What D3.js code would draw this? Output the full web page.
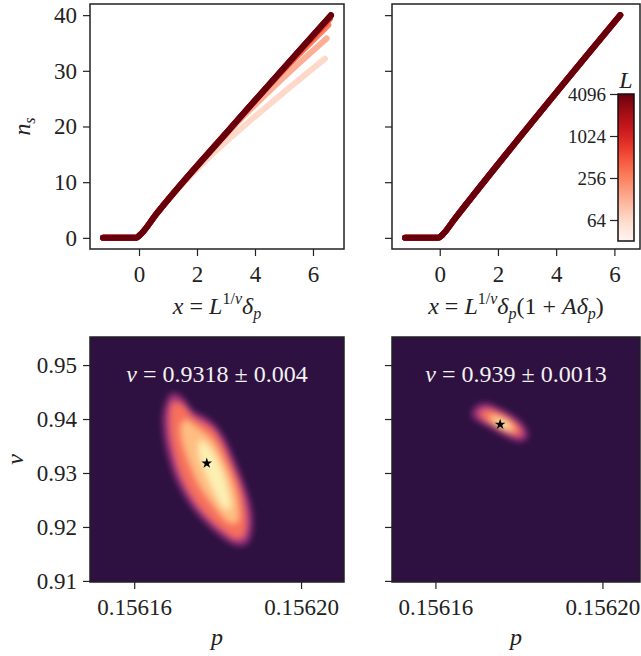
<!DOCTYPE html>
<html>
<head>
<meta charset="utf-8">
<script src="https://cdn.jsdelivr.net/npm/d3@7"></script>
<style>
  body { margin: 0; background: #fff; }
  svg text { font-family: "Liberation Serif", "DejaVu Serif", serif; fill: #222; }
</style>
</head>
<body>
<div id="chart"></div>
<script>
//************************ data ************************

// system sizes shown in the top panels (colour = L)
var L_sizes = [64, 128, 256, 512, 1024, 2048, 4096];

// raw collapse, x = L^{1/nu} delta_p  -> n_s   (one list of [x, y] per L)
var raw_curves = [
  [[-1.24, 0], [-0.1, 0], [0.05, 0.6], [0.6, 4.3], [1.6, 10.2], [2.6, 15.4], [3.6, 20.0], [6.41, 32.2]],
  [[-1.24, 0], [-0.1, 0], [0.05, 0.6], [0.6, 4.3], [2.2, 13.9], [3.3, 20.2], [4.8, 27.9], [6.47, 35.8]],
  [[-1.24, 0], [-0.1, 0], [0.05, 0.6], [0.6, 4.3], [3.14, 19.6], [4.6, 28.0], [6.53, 38.2]],
  [[-1.24, 0], [-0.1, 0], [0.05, 0.6], [0.6, 4.3], [3.14, 19.6], [5.2, 31.5], [6.58, 39.3]],
  [[-1.24, 0], [-0.1, 0], [0.05, 0.6], [0.6, 4.3], [3.14, 19.6], [6.62, 39.9]],
  [[-1.24, 0], [-0.1, 0], [0.05, 0.6], [0.6, 4.3], [3.14, 19.6], [6.62, 40.0]],
  [[-1.24, 0], [-0.1, 0], [0.05, 0.6], [0.6, 4.3], [3.14, 19.6], [6.62, 40.0]]
];

// collapse with correction, x = L^{1/nu} delta_p (1 + A delta_p)
var fit_curves = [
  [[-1.19, 0], [-0.05, 0], [0.1, 0.6], [0.5, 3.3], [6.12, 39.5]],
  [[-1.19, 0], [-0.05, 0], [0.1, 0.6], [0.5, 3.3], [6.16, 39.7]],
  [[-1.19, 0], [-0.05, 0], [0.1, 0.6], [0.5, 3.3], [6.18, 39.9]],
  [[-1.19, 0], [-0.05, 0], [0.1, 0.6], [0.5, 3.3], [6.2, 40.0]],
  [[-1.19, 0], [-0.05, 0], [0.1, 0.6], [0.5, 3.3], [6.2, 40.0]],
  [[-1.19, 0], [-0.05, 0], [0.1, 0.6], [0.5, 3.3], [6.2, 40.0]],
  [[-1.19, 0], [-0.05, 0], [0.1, 0.6], [0.5, 3.3], [6.2, 40.0]]
];

var top_x_ticks = [0, 2, 4, 6];
var top_y_ticks = [0, 10, 20, 30, 40];
var cbar_ticks = [64, 256, 1024, 4096];
var cbar_range = [32, 4096];

var raw_xlim = [-1.69, 7.07];
var fit_xlim = [-1.64, 6.88];
var ns_lim = [-2, 42];

// likelihood maps: level outlines in (p, nu), from outer to inner
var map_levels = [0.45, 0.7, 0.86, 0.97];

var raw_map = [
  [[0.1561691,0.94476],[0.1561715,0.94402],[0.1561739,0.94161],[0.1561765,0.94050],[0.1561792,0.93902],[0.1561816,0.93643],[0.1561840,0.93235],[0.1561863,0.92791],[0.1561880,0.92365],[0.1561883,0.91994],[0.1561871,0.91698],[0.1561844,0.91661],[0.1561811,0.91809],[0.1561770,0.92087],[0.1561732,0.92439],[0.1561701,0.92865],[0.1561681,0.93328],[0.1561670,0.93791],[0.1561672,0.94198]],
  [[0.1561693,0.94309],[0.1561717,0.94254],[0.1561741,0.94031],[0.1561768,0.93920],[0.1561792,0.93772],[0.1561811,0.93531],[0.1561832,0.93161],[0.1561854,0.92735],[0.1561866,0.92346],[0.1561868,0.91994],[0.1561859,0.91809],[0.1561842,0.91791],[0.1561813,0.91939],[0.1561775,0.92198],[0.1561741,0.92532],[0.1561713,0.92939],[0.1561696,0.93365],[0.1561686,0.93791],[0.1561686,0.94143]],
  [[0.1561722,0.93976],[0.1561753,0.93828],[0.1561787,0.93606],[0.1561813,0.93235],[0.1561837,0.92791],[0.1561849,0.92383],[0.1561847,0.92087],[0.1561828,0.92087],[0.1561794,0.92365],[0.1561758,0.92754],[0.1561732,0.93198],[0.1561715,0.93606],[0.1561713,0.93883]],
  [[0.1561758,0.93606],[0.1561782,0.93457],[0.1561806,0.93124],[0.1561825,0.92680],[0.1561830,0.92346],[0.1561816,0.92346],[0.1561792,0.92643],[0.1561770,0.93013],[0.1561756,0.93328]]
];

var fit_map = [
  [[0.1561688,0.94124],[0.1561698,0.94235],[0.1561719,0.94291],[0.1561748,0.94217],[0.1561779,0.94087],[0.1561805,0.93939],[0.1561820,0.93754],[0.1561817,0.93624],[0.1561800,0.93587],[0.1561772,0.93661],[0.1561738,0.93809],[0.1561707,0.93939],[0.1561690,0.94031]],
  [[0.1561707,0.94124],[0.1561724,0.94180],[0.1561750,0.94124],[0.1561779,0.93994],[0.1561800,0.93846],[0.1561805,0.93717],[0.1561793,0.93698],[0.1561767,0.93772],[0.1561736,0.93902],[0.1561712,0.94013]],
  [[0.1561731,0.94069],[0.1561755,0.94031],[0.1561779,0.93920],[0.1561791,0.93791],[0.1561774,0.93791],[0.1561748,0.93902],[0.1561731,0.93976]],
  [[0.1561745,0.93994],[0.1561765,0.93939],[0.1561779,0.93828],[0.1561762,0.93846],[0.1561748,0.93920]]
];

var raw_best = [0.1561774, 0.9318];
var fit_best = [0.1561755, 0.939];
var raw_text = ['0.9318', '0.004'];
var fit_text = ['0.939', '0.0013'];

var p_ticks = [0.15616, 0.15620];
var nu_ticks = [0.91, 0.92, 0.93, 0.94, 0.95];
var raw_plim = [0.1561494, 0.1562103];
var fit_plim = [0.1561496, 0.1562090];
var nu_lim = [0.9098, 0.9552];

//************************ setup ************************

var chart_width = 641;
var chart_height = 656;
var ink = '#222';
var map_bg = '#2e1141';
var serif = '"Liberation Serif", "DejaVu Serif", serif';

var svg = d3.select('#chart')
  .append('svg')
  .attr('width', chart_width)
  .attr('height', chart_height);

var defs = svg.append('defs');
defs.append('filter')
  .attr('id', 'soft')
  .attr('x', '-20%').attr('y', '-20%')
  .attr('width', '140%').attr('height', '140%')
  .append('feGaussianBlur')
  .attr('stdDeviation', 3.2);

var L_color = d3.scaleSequentialLog(d3.interpolateReds).domain(cbar_range);

// panel boxes [left, top, right, bottom]
var box_tl = [90, 4, 344, 249];
var box_tr = [392, 4, 640, 249];
var box_bl = [90, 337, 344, 582];
var box_br = [392, 337, 640, 582];

function style_axis(g) {
  g.attr('font-size', 23)
    .attr('font-family', serif)
    .attr('color', ink);
  g.select('.domain').remove();
  g.selectAll('.tick line').attr('stroke-width', 1.2);
}

function draw_axes(box, x_scale, y_scale, x_ticks, y_ticks, x_fmt, y_fmt) {
  svg.append('g')
    .attr('transform', 'translate(0,' + box[3] + ')')
    .call(d3.axisBottom(x_scale).tickValues(x_ticks).tickSize(7).tickPadding(10).tickFormat(x_fmt))
    .call(style_axis);

  svg.append('g')
    .attr('transform', 'translate(' + box[0] + ',0)')
    .call(d3.axisLeft(y_scale).tickValues(y_ticks).tickSize(7).tickPadding(6).tickFormat(y_fmt))
    .call(style_axis);

  svg.append('rect')
    .attr('x', box[0])
    .attr('y', box[1])
    .attr('width', box[2] - box[0])
    .attr('height', box[3] - box[1])
    .attr('fill', 'none')
    .attr('stroke', ink)
    .attr('stroke-width', 1.5);
}

var no_label = function() { return ''; };

//************************ top panels: collapse curves ************************

function draw_curves(box, xlim, curves) {
  var x_scale = d3.scaleLinear().domain(xlim).range([box[0], box[2]]);
  var y_scale = d3.scaleLinear().domain(ns_lim).range([box[3], box[1]]);

  var line = d3.line()
    .x(function(d) { return x_scale(d[0]); })
    .y(function(d) { return y_scale(d[1]); })
    .curve(d3.curveMonotoneX);

  svg.append('g')
    .selectAll('path')
    .data(curves)
    .enter()
    .append('path')
    .attr('d', line)
    .attr('fill', 'none')
    .attr('stroke', function(d, i) { return L_color(L_sizes[i]); })
    .attr('stroke-width', 6)
    .attr('stroke-linecap', 'round')
    .attr('stroke-linejoin', 'round');

  return [x_scale, y_scale];
}

var tl = draw_curves(box_tl, raw_xlim, raw_curves);
draw_axes(box_tl, tl[0], tl[1], top_x_ticks, top_y_ticks, d3.format('d'), d3.format('d'));

var tr = draw_curves(box_tr, fit_xlim, fit_curves);
draw_axes(box_tr, tr[0], tr[1], top_x_ticks, top_y_ticks, d3.format('d'), no_label);

// colorbar
var cb_x = 618, cb_w = 16, cb_top = 94, cb_bottom = 241;
var cb_scale = d3.scaleLog().domain(cbar_range).range([cb_bottom, cb_top]);

var grad = defs.append('linearGradient')
  .attr('id', 'reds')
  .attr('x1', 0).attr('y1', 1).attr('x2', 0).attr('y2', 0);
grad.selectAll('stop')
  .data(d3.range(0, 1.0001, 0.05))
  .enter()
  .append('stop')
  .attr('offset', function(d) { return d; })
  .attr('stop-color', function(d) { return d3.interpolateReds(d); });

svg.append('rect')
  .attr('x', cb_x).attr('y', cb_top)
  .attr('width', cb_w).attr('height', cb_bottom - cb_top)
  .attr('fill', 'url(#reds)')
  .attr('stroke', '#111')
  .attr('stroke-width', 1.5);

svg.append('g')
  .attr('transform', 'translate(' + cb_x + ',0)')
  .call(d3.axisLeft(cb_scale).tickValues(cbar_ticks).tickSize(8).tickPadding(4).tickFormat(d3.format('d')))
  .call(style_axis)
  .attr('font-size', 19);

svg.append('text')
  .attr('x', cb_x + cb_w / 2)
  .attr('y', 88)
  .attr('text-anchor', 'middle')
  .attr('font-size', 24)
  .attr('font-style', 'italic')
  .text('L');

//************************ bottom panels: likelihood maps ************************

var nu_scale = d3.scaleLinear().domain(nu_lim).range([box_bl[3], box_bl[1]]);

function draw_map(box, plim, levels, best, label, id) {
  var p_scale = d3.scaleLinear().domain(plim).range([box[0], box[2]]);

  defs.append('clipPath')
    .attr('id', id)
    .append('rect')
    .attr('x', box[0]).attr('y', box[1])
    .attr('width', box[2] - box[0]).attr('height', box[3] - box[1]);

  svg.append('rect')
    .attr('x', box[0]).attr('y', box[1])
    .attr('width', box[2] - box[0]).attr('height', box[3] - box[1])
    .attr('fill', map_bg);

  var outline = d3.line()
    .x(function(d) { return p_scale(d[0]); })
    .y(function(d) { return nu_scale(d[1]); })
    .curve(d3.curveCatmullRomClosed);

  svg.append('g')
    .attr('clip-path', 'url(#' + id + ')')
    .append('g')
    .attr('filter', 'url(#soft)')
    .selectAll('path')
    .data(levels)
    .enter()
    .append('path')
    .attr('d', outline)
    .attr('fill', function(d, i) { return d3.interpolateMagma(map_levels[i]); });

  svg.append('path')
    .attr('d', d3.symbol().type(d3.symbolStar).size(36))
    .attr('transform', 'translate(' + p_scale(best[0]) + ',' + nu_scale(best[1]) + ')')
    .attr('fill', '#000');

  var t = svg.append('text')
    .attr('x', (box[0] + box[2]) / 2)
    .attr('y', box[1] + 45)
    .attr('text-anchor', 'middle')
    .attr('font-size', 24)
    .style('fill', '#f2f2f2');
  t.append('tspan').attr('font-style', 'italic').text('ν');
  t.append('tspan').text(' = ' + label[0] + ' ± ' + label[1]);

  return p_scale;
}

var bl = draw_map(box_bl, raw_plim, raw_map, raw_best, raw_text, 'clip_bl');
draw_axes(box_bl, bl, nu_scale, p_ticks, nu_ticks, d3.format('.5f'), d3.format('.2f'));

var br = draw_map(box_br, fit_plim, fit_map, fit_best, fit_text, 'clip_br');
draw_axes(box_br, br, nu_scale, p_ticks, nu_ticks, d3.format('.5f'), no_label);

//************************ axis labels ************************

function x_label(cx, with_fix) {
  var t = svg.append('text')
    .attr('x', cx)
    .attr('y', 314)
    .attr('text-anchor', 'middle')
    .attr('font-size', 24);
  t.append('tspan').attr('font-style', 'italic').text('x');
  t.append('tspan').text(' = ');
  t.append('tspan').attr('font-style', 'italic').text('L');
  t.append('tspan').attr('font-size', 16).attr('dy', -10).text('1/');
  t.append('tspan').attr('font-size', 16).attr('font-style', 'italic').text('ν');
  t.append('tspan').attr('font-style', 'italic').attr('dy', 10).text('δ');
  t.append('tspan').attr('font-size', 16).attr('font-style', 'italic').attr('dy', 5).text('p');
  if (with_fix) {
    t.append('tspan').attr('dy', -5).text('(1 + ');
    t.append('tspan').attr('font-style', 'italic').text('Aδ');
    t.append('tspan').attr('font-size', 16).attr('font-style', 'italic').attr('dy', 5).text('p');
    t.append('tspan').attr('dy', -5).text(')');
  }
}

x_label((box_tl[0] + box_tl[2]) / 2, false);
x_label((box_tr[0] + box_tr[2]) / 2, true);

var ns_label = svg.append('text')
  .attr('transform', 'translate(30,' + ((box_tl[1] + box_tl[3]) / 2) + ') rotate(-90)')
  .attr('text-anchor', 'middle')
  .attr('font-size', 24)
  .attr('font-style', 'italic');
ns_label.append('tspan').text('n');
ns_label.append('tspan').attr('font-size', 16).attr('dy', 5).text('s');

svg.append('text')
  .attr('transform', 'translate(23,' + ((box_bl[1] + box_bl[3]) / 2) + ') rotate(-90)')
  .attr('text-anchor', 'middle')
  .attr('font-size', 24)
  .attr('font-style', 'italic')
  .text('ν');

[box_bl, box_br].forEach(function(box) {
  svg.append('text')
    .attr('x', (box[0] + box[2]) / 2)
    .attr('y', 645)
    .attr('text-anchor', 'middle')
    .attr('font-size', 24)
    .attr('font-style', 'italic')
    .text('p');
});
</script>
</body>
</html>
